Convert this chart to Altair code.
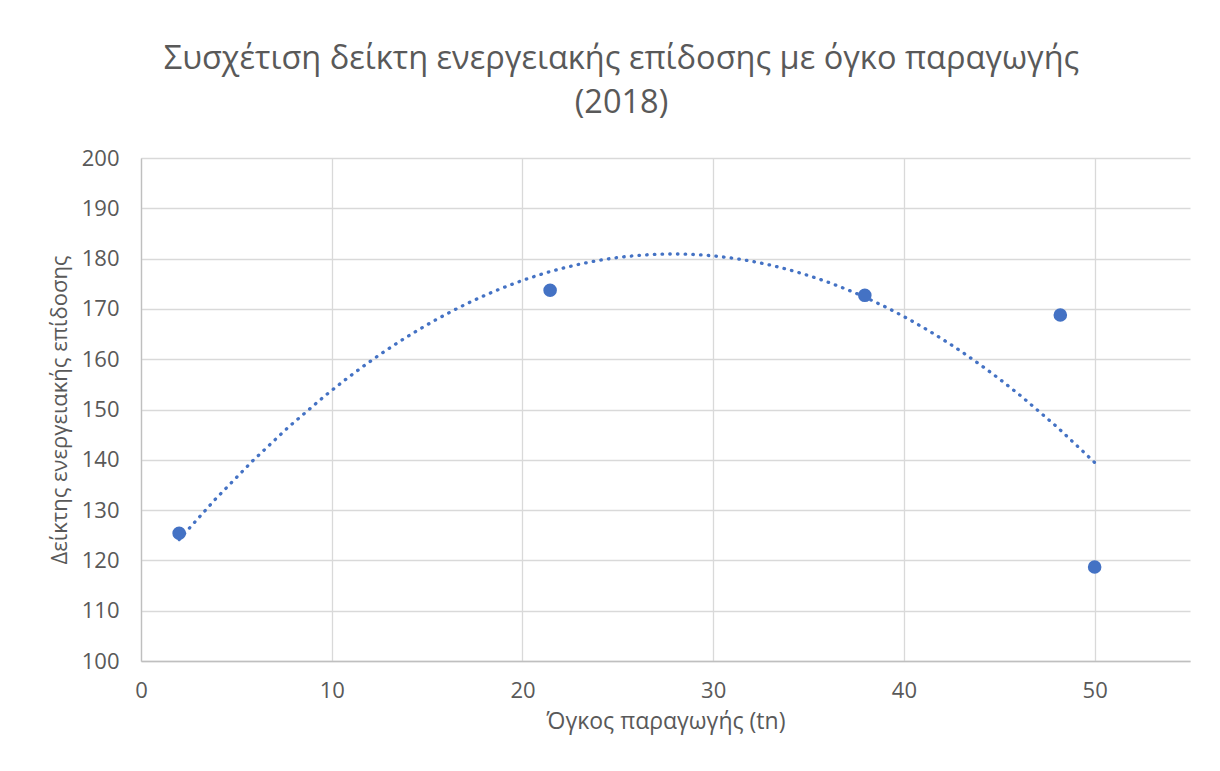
import altair as alt
import pandas as pd

# Data
volume = [2.0, 21.45, 37.95, 48.2, 50.0]          # Όγκος παραγωγής (tn)
indicator = [125.4, 173.7, 172.7, 168.8, 118.7]   # Δείκτης ενεργειακής επίδοσης
x_ticks = [0, 10, 20, 30, 40, 50]
y_ticks = [100, 110, 120, 130, 140, 150, 160, 170, 180, 190, 200]

df = pd.DataFrame({"x": volume, "y": indicator})

BLUE = "#4472C4"
FONT = "Open Sans"
TXT = "#595959"

x_enc = alt.X(
    "x:Q",
    scale=alt.Scale(domain=[0, 55], nice=False),
    axis=alt.Axis(values=x_ticks, title="Όγκος παραγωγής (tn)", labelFlush=False,
                  titleFontSize=23),
)
y_enc = alt.Y(
    "y:Q",
    scale=alt.Scale(domain=[100, 200], nice=False, zero=False),
    axis=alt.Axis(values=y_ticks, title="Δείκτης ενεργειακής επίδοσης", titleFontSize=22),
)

base = alt.Chart(df)

trend = (
    base.transform_regression("x", "y", method="poly", order=2)
    .mark_line(color=BLUE, strokeWidth=3.3, strokeDash=[0.5, 7.2], strokeCap="round")
    .encode(x=x_enc, y=y_enc)
)

points = base.mark_circle(size=185, color=BLUE, opacity=1).encode(x=x_enc, y=y_enc)

chart = (
    alt.layer(trend, points)
    .properties(
        width=1049,
        height=503,
        autosize=alt.AutoSizeParams(type="none"),
        padding={"left": 133, "top": 150, "right": 22, "bottom": 102},
        title=alt.TitleParams(
            text=["Συσχέτιση δείκτη ενεργειακής επίδοσης με όγκο παραγωγής", "(2018)"],
            fontSize=32.5,
            font=FONT,
            fontWeight="normal",
            color=TXT,
            anchor="middle",
            dx=-44,
            lineHeight=44,
            offset=28,
        ),
    )
    .configure_view(stroke=None)
    .configure_axis(
        labelFont=FONT,
        titleFont=FONT,
        labelFontSize=22,
        labelColor=TXT,
        titleColor=TXT,
        titleFontWeight="normal",
        gridColor="#d9d9d9",
        gridWidth=1.3,
        domainColor="#bfbfbf",
        domainWidth=1.3,
        ticks=False,
    )
    .configure_axisX(labelPadding=19, titlePadding=9)
    .configure_axisY(labelPadding=22, titlePadding=10)
)

chart.save("out.html", embed_options={"renderer": "svg", "actions": False})
